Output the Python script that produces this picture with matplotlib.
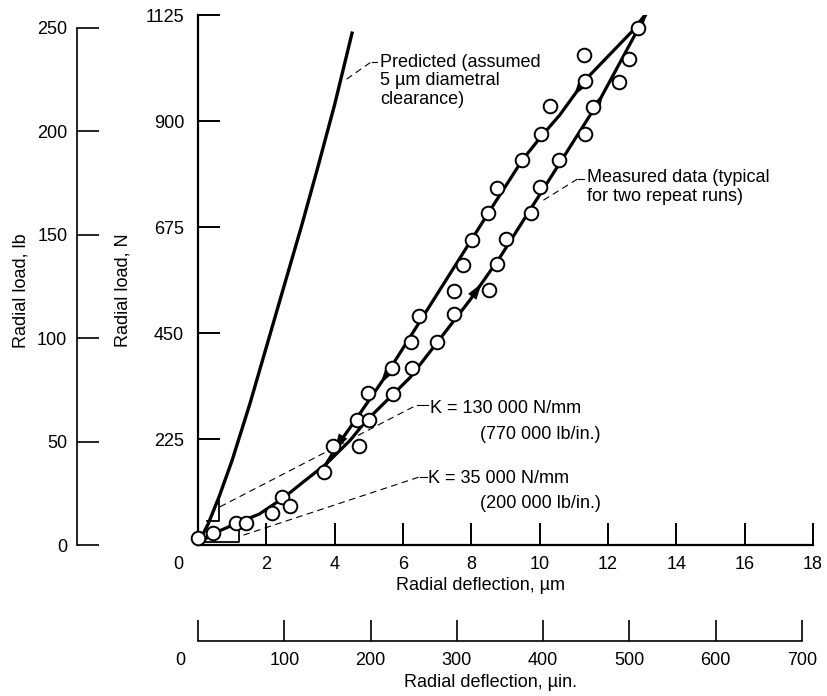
import numpy as np
import matplotlib
matplotlib.use("Agg")
from matplotlib import pyplot as plt

plt.rcParams['font.family'] = ['Liberation Sans', 'DejaVu Sans']
plt.rcParams['font.size'] = 13

# unit conversions used for the auxiliary scales
N_PER_LB = 4.39
UIN_PER_UM = 39.6

# measured points (two repeat runs), deflection in um, load in N
meas_defl = [0.0, 0.45, 1.11, 1.40, 2.17, 2.45, 2.69, 3.69, 3.96, 4.71,
             4.66, 5.00, 4.99, 5.70, 5.69, 6.25, 6.23, 7.00, 6.47, 7.50,
             7.48, 8.51, 7.75, 8.74, 8.03, 9.01, 8.50, 9.76, 8.74, 10.01,
             9.49, 10.56, 10.03, 11.33, 10.30, 11.56, 11.33, 12.33, 12.61,
             11.30, 12.89]
meas_load = [14, 26, 46, 47, 67, 101, 83, 156, 210, 210,
             265, 265, 322, 320, 375, 375, 430, 432, 486, 490,
             540, 542, 594, 596, 647, 650, 705, 705, 758, 760,
             817, 817, 872, 872, 931, 930, 986, 983, 1031,
             1040, 1097]

# faired loading curve (origin to peak)
load_defl = [0.0, 0.5, 1.1, 1.8, 2.5, 3.1, 3.75, 4.45, 4.9, 5.5, 6.2,
             7.0, 7.96, 8.84, 10.59, 11.76, 13.02, 13.1]
load_load = [3, 26, 45, 66, 100, 135, 172, 222, 262, 305, 355,
             430, 520, 611, 811, 945, 1114, 1125]

# faired unloading curve (joins loading curve near 3.75 um)
unload_defl = [3.75, 4.06, 4.7, 5.41, 6.89, 7.76, 8.50, 9.49, 10.03,
               10.59, 11.33, 12.70, 13.08]
unload_load = [172, 209, 275, 350, 520, 620, 705, 817, 866,
               913, 987, 1090, 1125]

# predicted load-deflection, 5 um diametral clearance
pred_defl = [0.0, 0.3, 0.62, 1.0, 1.52, 2.0, 2.5, 3.03, 3.5, 4.0, 4.52]
pred_load = [3, 45, 103, 180, 300, 420, 545, 677, 800, 935, 1090]

# initial stiffness, N/um (= 1000 N/mm)
k_pred = 130
k_meas = 35

# direction arrows along the curves (deflection where each sits)
load_arrows = [8.3, 11.85, 13.1]
unload_arrows = [11.0, 5.35, 4.0]

fig = plt.figure(figsize=(8.27, 6.96), dpi=100)
ax = fig.add_axes([0.2394, 0.2169, 0.7437, 0.7615])
ax.set_xlim(0, 18)
ax.set_ylim(0, 1125)
ax.patch.set_visible(False)

for s in ['top', 'right']:
    ax.spines[s].set_visible(False)
for s in ['left', 'bottom']:
    ax.spines[s].set_linewidth(1.6)
ax.spines['left'].set_bounds(0, 1125)
ax.spines['bottom'].set_bounds(0, 18)

ax.set_xticks(np.arange(2, 19, 2))
ax.set_yticks([225, 450, 675, 900, 1125])
ax.tick_params(axis='x', direction='in', length=16, width=1.4, pad=8)
ax.tick_params(axis='y', direction='in', length=16, width=1.4, pad=10)
ax.annotate('0', xy=(0, 0), xytext=(-14, -8), textcoords='offset points',
            ha='center', va='top', annotation_clip=False)

# curves
lw = 2.3
ax.plot(pred_defl, pred_load, color='k', lw=2.4, solid_capstyle='butt', zorder=2)
ax.plot(load_defl, load_load, color='k', lw=lw, zorder=2)
ax.plot(unload_defl, unload_load, color='k', lw=lw, zorder=2)

def arrow_on(curve_x, curve_y, x, step):
    x0 = x - step
    y0 = np.interp(x0, curve_x, curve_y)
    y1 = np.interp(x, curve_x, curve_y)
    ax.annotate('', xy=(x, y1), xytext=(x0, y0),
                arrowprops=dict(arrowstyle='-|>,head_length=0.9,head_width=0.28',
                                color='k', lw=0, shrinkA=0, shrinkB=0),
                zorder=3)

for x in load_arrows:
    arrow_on(load_defl, load_load, x, 0.06)
for x in unload_arrows:
    arrow_on(unload_defl, unload_load, x, -0.06)

ax.plot(meas_defl, meas_load, 'o', ms=9.8, mfc='white', mec='k', mew=1.4,
        zorder=4, clip_on=False)

# stiffness triangles
tx0, tx1, ty0 = 0.25, 0.62, 52
ax.plot([tx0, tx1, tx1], [ty0, ty0, ty0 + k_pred * (tx1 - tx0)],
        color='k', lw=1.3, zorder=2)
mx0, mx1, my0 = 0.11, 1.21, 6
ax.plot([mx0, mx1, mx1], [my0, my0, my0 + k_meas * (mx1 - mx0)],
        color='k', lw=1.3, zorder=2)

# leader lines and notes
dash = dict(color='k', lw=0.8, ls=(0, (6, 4)), zorder=1)
solid = dict(color='k', lw=0.8, zorder=1)

ax.plot([4.35, 5.08], [989, 1026], **dash)
ax.plot([5.08, 5.25], [1026, 1026], **solid)
ax.text(5.33, 1043, 'Predicted (assumed\n5 \u00b5m diametral\nclearance)',
        ha='left', va='top', linespacing=1.12)

ax.plot([10.11, 11.13], [732, 778], **dash)
ax.plot([11.13, 11.3], [778, 778], **solid)
ax.text(11.38, 798, 'Measured data (typical\nfor two repeat runs)',
        ha='left', va='top', linespacing=1.12)

ax.plot([0.64, 6.40], [81, 297], **dash)
ax.plot([6.40, 6.73], [297, 297], **solid)
ax.text(6.79, 289, 'K = 130 000 N/mm', ha='left', va='center')
ax.text(8.25, 234, '(770 000 lb/in.)', ha='left', va='center')

ax.plot([1.33, 6.50], [21, 145], **dash)
ax.plot([6.50, 6.70], [145, 145], **solid)
ax.text(6.73, 142, 'K = 35 000 N/mm', ha='left', va='center')
ax.text(8.25, 89, '(200 000 lb/in.)', ha='left', va='center')

# axis titles
ax.text(0.459, -0.076, 'Radial deflection, \u00b5m', transform=ax.transAxes,
        ha='center', va='center')
ax.text(-0.122, 0.48, 'Radial load, N', transform=ax.transAxes,
        ha='center', va='center', rotation=90)
ax.text(-0.288, 0.48, 'Radial load, lb', transform=ax.transAxes,
        ha='center', va='center', rotation=90)

# load scale in pounds
sec_y = ax.secondary_yaxis(-0.1967, functions=(lambda v: v / N_PER_LB,
                                               lambda v: v * N_PER_LB))
sec_y.set_yticks(np.arange(0, 251, 50))
sec_y.spines['left'].set_bounds(0, 250)
sec_y.spines['left'].set_linewidth(1.2)
sec_y.tick_params(direction='in', length=16, width=1.2, pad=7)

# deflection scale in microinches
sec_x = ax.secondary_xaxis(-0.181, functions=(lambda v: v * UIN_PER_UM,
                                              lambda v: v / UIN_PER_UM))
sec_x.set_xticks(np.arange(0, 701, 100),
                 labels=[''] + [str(v) for v in range(100, 701, 100)])
sec_x.spines['bottom'].set_bounds(0, 700)
sec_x.spines['bottom'].set_linewidth(1.2)
sec_x.tick_params(direction='in', length=15, width=1.2, pad=8)
ax.annotate('0', xy=(0, -0.181), xycoords=('data', 'axes fraction'),
            xytext=(-13, -8), textcoords='offset points',
            ha='center', va='top', annotation_clip=False)
ax.text(0.475, -0.26, 'Radial deflection, \u00b5in.', transform=ax.transAxes,
        ha='center', va='center')

fig.savefig('out.png', dpi=100)
